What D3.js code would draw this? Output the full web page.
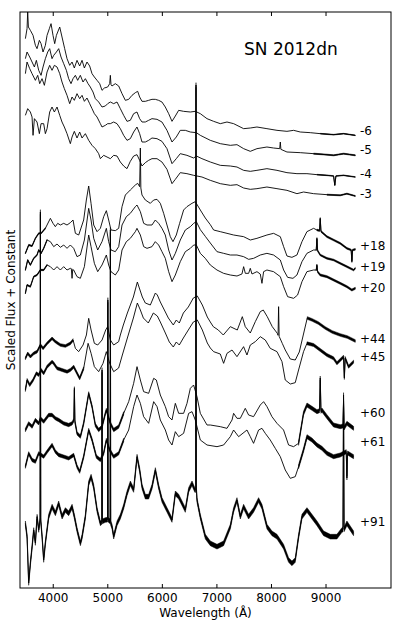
<!DOCTYPE html>
<html><head><meta charset="utf-8">
<script src="https://cdn.jsdelivr.net/npm/d3@7"></script>
<style>body{margin:0;background:#fff}</style>
</head><body><svg id="c" width="399" height="626"></svg>
<script>
// ---- data: [wavelength (Å), scaled flux + constant (arbitrary units)] ----
const epochs = ["-6","-5","-4","-3","+18","+19","+20","+44","+45","+60","+61","+91"];
const spec_m6 = [[3499,1648],[3529,1678],[3541,1728],[3554,1683],[3590,1673],[3639,1658],[3682,1628],[3712,1618],[3755,1643],[3786,1633],[3822,1608],[3865,1628],[3896,1658],[3938,1678],[3969,1693],[4005,1658],[4036,1633],[4067,1658],[4128,1683],[4170,1653],[4219,1618],[4262,1588],[4311,1568],[4354,1578],[4396,1560],[4445,1583],[4494,1566],[4537,1583],[4580,1560],[4628,1578],[4677,1566],[4720,1543],[4763,1533],[4812,1523],[4861,1513],[4903,1493],[4946,1500],[5007,1503],[5044,1513],[5056,1538],[5068,1510],[5086,1506],[5147,1513],[5209,1506],[5270,1483],[5331,1463],[5392,1466],[5453,1478],[5514,1486],[5557,1490],[5593,1473],[5636,1460],[5697,1460],[5758,1463],[5819,1466],[5880,1466],[5941,1463],[6002,1458],[6063,1443],[6125,1423],[6186,1400],[6247,1416],[6308,1433],[6399,1430],[6522,1428],[6613,1430],[6705,1423],[6827,1408],[6949,1400],[7071,1393],[7194,1398],[7316,1393],[7499,1378],[7621,1380],[7743,1383],[7926,1378],[8110,1373],[8293,1370],[8415,1373],[8537,1368],[8720,1366],[8903,1363],[9148,1360],[9331,1363],[9545,1358]];
const spec_m5 = [[3499,1588],[3529,1608],[3578,1593],[3621,1578],[3664,1563],[3700,1583],[3743,1553],[3786,1538],[3822,1563],[3865,1588],[3908,1608],[3944,1618],[3987,1588],[4018,1598],[4067,1608],[4109,1618],[4152,1593],[4201,1573],[4250,1553],[4292,1528],[4335,1513],[4372,1528],[4415,1538],[4457,1523],[4506,1538],[4555,1518],[4598,1528],[4647,1513],[4689,1503],[4738,1488],[4781,1468],[4842,1458],[4903,1443],[4964,1446],[5007,1453],[5056,1458],[5117,1453],[5178,1458],[5239,1438],[5300,1418],[5361,1400],[5422,1403],[5483,1423],[5544,1428],[5593,1408],[5636,1398],[5697,1398],[5758,1403],[5819,1408],[5911,1406],[6002,1398],[6094,1373],[6186,1338],[6265,1353],[6338,1373],[6430,1373],[6522,1368],[6632,1366],[6705,1358],[6888,1343],[7071,1333],[7255,1328],[7377,1330],[7499,1318],[7621,1310],[7743,1318],[7926,1323],[8048,1320],[8160,1318],[8171,1338],[8182,1316],[8293,1308],[8537,1306],[8781,1303],[9026,1300],[9148,1298],[9331,1303],[9545,1298]];
const spec_m4 = [[3499,1543],[3529,1578],[3578,1558],[3621,1543],[3682,1523],[3725,1538],[3761,1513],[3804,1528],[3847,1508],[3896,1548],[3944,1568],[3987,1553],[4030,1568],[4079,1563],[4128,1543],[4170,1518],[4213,1498],[4262,1478],[4311,1453],[4354,1473],[4396,1463],[4445,1483],[4494,1468],[4537,1478],[4580,1460],[4628,1470],[4677,1453],[4720,1438],[4763,1423],[4812,1413],[4873,1393],[4903,1383],[4964,1388],[5007,1393],[5056,1393],[5117,1398],[5178,1393],[5239,1378],[5300,1358],[5361,1343],[5422,1348],[5483,1368],[5544,1383],[5593,1363],[5636,1338],[5697,1338],[5758,1343],[5819,1350],[5911,1348],[6002,1340],[6094,1318],[6186,1273],[6265,1288],[6338,1303],[6460,1298],[6583,1290],[6632,1296],[6735,1288],[6888,1278],[7071,1268],[7255,1266],[7377,1263],[7499,1253],[7621,1250],[7743,1253],[7926,1258],[8110,1253],[8293,1246],[8476,1243],[8659,1243],[8842,1240],[9026,1238],[9148,1236],[9170,1208],[9190,1236],[9331,1238],[9545,1233]];
const spec_m3 = [[3499,1418],[3541,1438],[3590,1428],[3621,1413],[3639,1358],[3664,1408],[3712,1398],[3755,1363],[3786,1393],[3834,1393],[3865,1363],[3896,1378],[3944,1428],[3987,1443],[4030,1428],[4079,1443],[4128,1418],[4170,1398],[4213,1383],[4262,1363],[4323,1333],[4354,1353],[4396,1370],[4445,1350],[4494,1368],[4537,1350],[4598,1363],[4659,1343],[4720,1328],[4781,1318],[4842,1303],[4873,1288],[4934,1298],[4995,1293],[5056,1288],[5117,1298],[5178,1296],[5239,1278],[5300,1266],[5361,1258],[5422,1280],[5483,1296],[5544,1300],[5593,1283],[5636,1266],[5697,1276],[5758,1283],[5819,1288],[5911,1288],[6002,1278],[6094,1256],[6186,1213],[6247,1226],[6338,1246],[6460,1243],[6583,1238],[6735,1233],[6888,1223],[7071,1213],[7255,1208],[7377,1210],[7499,1200],[7621,1196],[7743,1198],[7926,1203],[8110,1198],[8293,1193],[8476,1183],[8598,1188],[8781,1183],[9026,1180],[9270,1178],[9392,1183],[9545,1176]];
const spec_p18 = [[3499,1004],[3560,1029],[3621,1026],[3682,1049],[3743,1064],[3786,1064],[3865,1079],[3957,1109],[4005,1094],[4048,1084],[4091,1094],[4140,1089],[4201,1094],[4262,1089],[4323,1096],[4372,1104],[4415,1064],[4476,1059],[4567,1104],[4616,1164],[4659,1206],[4702,1154],[4751,1089],[4812,1069],[4873,1079],[4934,1114],[4983,1132],[5025,1104],[5068,1074],[5147,1072],[5209,1079],[5270,1144],[5331,1179],[5422,1194],[5514,1209],[5557,1214],[5593,1204],[5606,1320],[5615,1200],[5636,1179],[5697,1164],[5789,1154],[5850,1164],[5911,1166],[5972,1154],[6033,1124],[6094,1089],[6155,1054],[6204,1039],[6265,1059],[6326,1094],[6399,1134],[6460,1144],[6552,1154],[6613,1159],[6705,1134],[6796,1110],[6888,1090],[6949,1074],[7071,1069],[7194,1064],[7316,1059],[7499,1054],[7621,1044],[7743,1049],[7926,1059],[8048,1064],[8171,1054],[8232,1024],[8293,996],[8384,992],[8476,999],[8568,1039],[8659,1069],[8781,1079],[8842,1074],[8890,1072],[8903,1109],[8916,1070],[9026,1054],[9148,1044],[9270,1034],[9392,1019],[9470,1014],[9483,979],[9496,1014],[9545,1016]];
const spec_p19 = [[3499,954],[3541,984],[3590,969],[3651,989],[3712,999],[3743,1014],[3786,1004],[3834,1019],[3896,1044],[3957,1039],[4018,1024],[4079,1032],[4140,1022],[4201,1029],[4262,1019],[4323,1029],[4384,1019],[4445,994],[4506,999],[4580,1044],[4659,1139],[4702,1104],[4751,1049],[4824,1014],[4903,1039],[4983,1079],[5025,1039],[5068,1014],[5147,1009],[5209,1024],[5270,1089],[5349,1114],[5422,1124],[5514,1144],[5544,1149],[5606,1129],[5667,1094],[5728,1089],[5819,1089],[5880,1104],[5941,1094],[6002,1079],[6063,1059],[6125,1014],[6186,984],[6247,1004],[6338,1044],[6430,1074],[6522,1084],[6583,1094],[6632,1099],[6705,1075],[6796,1055],[6888,1035],[7010,1009],[7132,1004],[7255,999],[7377,999],[7499,994],[7591,986],[7682,989],[7804,999],[7926,1004],[8048,999],[8171,984],[8232,954],[8305,932],[8403,929],[8476,939],[8568,979],[8659,1004],[8781,1014],[8830,1014],[8842,1049],[8855,1012],[8903,999],[9026,989],[9148,984],[9270,974],[9392,964],[9514,954],[9545,959]];
const spec_p20 = [[3499,884],[3529,909],[3590,904],[3651,934],[3712,939],[3773,954],[3834,954],[3896,969],[3957,964],[4018,954],[4079,964],[4140,954],[4201,964],[4262,954],[4323,959],[4341,958],[4354,929],[4366,956],[4384,954],[4445,934],[4506,929],[4580,964],[4659,1059],[4702,1024],[4763,974],[4824,949],[4903,969],[4983,999],[5025,969],[5068,949],[5147,939],[5209,954],[5270,1014],[5349,1039],[5422,1049],[5514,1069],[5544,1079],[5606,1059],[5667,1024],[5728,1019],[5819,1024],[5880,1039],[5941,1029],[6002,1009],[6063,989],[6125,949],[6186,919],[6247,939],[6338,979],[6430,1009],[6522,1019],[6583,1029],[6632,1029],[6705,1004],[6796,989],[6888,969],[7010,954],[7132,944],[7255,939],[7377,936],[7468,942],[7499,964],[7530,944],[7591,944],[7621,959],[7652,942],[7743,949],[7804,942],[7835,914],[7865,949],[7926,954],[8048,949],[8171,934],[8232,904],[8305,874],[8415,869],[8488,879],[8568,919],[8659,949],[8781,954],[8830,954],[8842,969],[8855,949],[8903,939],[9026,934],[9148,924],[9270,914],[9392,904],[9483,894],[9545,899]];
const spec_p44 = [[3499,689],[3541,704],[3591,694],[3651,704],[3713,709],[3774,729],[3823,719],[3897,734],[3988,749],[4049,739],[4140,729],[4232,726],[4323,734],[4373,744],[4415,719],[4475,709],[4556,729],[4617,759],[4659,809],[4703,774],[4763,734],[4824,729],[4904,744],[4970,774],[5007,784],[5056,744],[5117,729],[5208,739],[5239,759],[5294,789],[5368,825],[5478,873],[5551,918],[5587,900],[5642,873],[5697,855],[5789,849],[5881,885],[5917,879],[5972,858],[6064,828],[6119,810],[6210,789],[6265,804],[6320,795],[6394,825],[6485,843],[6577,870],[6650,876],[6742,849],[6833,813],[6888,798],[6943,784],[7035,774],[7126,759],[7255,784],[7383,774],[7475,814],[7529,784],[7621,765],[7713,799],[7804,829],[7859,834],[7932,814],[8024,784],[8116,764],[8130,758],[8140,844],[8150,755],[8207,734],[8262,714],[8354,687],[8445,684],[8519,708],[8592,759],[8665,810],[8757,804],[8867,795],[8995,780],[9123,768],[9270,759],[9398,753],[9508,744],[9545,741]];
const spec_p45 = [[3499,594],[3530,624],[3578,609],[3640,624],[3700,644],[3743,639],[3787,654],[3834,644],[3897,664],[3988,679],[4017,674],[4080,659],[4171,654],[4263,649],[4323,654],[4384,664],[4446,644],[4494,629],[4567,659],[4648,734],[4703,704],[4763,664],[4842,649],[4922,674],[4983,709],[5044,674],[5117,649],[5208,660],[5276,699],[5368,750],[5478,810],[5551,855],[5606,834],[5661,810],[5752,795],[5844,825],[5917,816],[5972,798],[6064,765],[6137,738],[6210,723],[6265,738],[6320,729],[6394,750],[6485,774],[6577,798],[6650,804],[6742,774],[6833,735],[6888,720],[6949,709],[7071,702],[7132,674],[7194,704],[7286,714],[7377,694],[7498,724],[7560,699],[7621,729],[7713,739],[7804,754],[7896,744],[7987,719],[8110,709],[8202,679],[8262,624],[8354,612],[8445,616],[8506,654],[8597,709],[8660,734],[8781,729],[8903,714],[9026,699],[9147,689],[9209,674],[9330,694],[9345,630],[9360,690],[9422,664],[9514,679]];
const spec_p60 = [[3499,474],[3559,494],[3622,484],[3682,504],[3743,494],[3774,509],[3834,499],[3926,519],[3988,519],[4049,509],[4109,504],[4201,494],[4292,489],[4355,494],[4387,504],[4397,599],[4406,500],[4446,464],[4507,454],[4567,494],[4659,584],[4721,544],[4781,489],[4842,474],[4904,484],[4965,524],[4983,534],[5056,494],[5117,474],[5208,484],[5300,524],[5392,559],[5483,614],[5545,664],[5606,624],[5666,589],[5758,584],[5850,629],[5899,624],[5972,579],[6064,544],[6124,514],[6186,504],[6247,554],[6308,524],[6399,524],[6461,554],[6522,599],[6582,609],[6644,574],[6705,524],[6828,489],[6888,489],[7071,484],[7194,479],[7286,504],[7315,524],[7377,509],[7438,509],[7529,539],[7590,519],[7681,514],[7804,549],[7865,559],[7927,544],[8018,514],[8110,494],[8231,474],[8323,429],[8414,424],[8506,434],[8597,524],[8660,549],[8751,539],[8843,529],[8890,532],[8903,630],[8916,530],[8934,534],[9026,514],[9147,489],[9270,484],[9320,486],[9330,560],[9340,480],[9392,494],[9514,479]];
const spec_p61 = [[3499,364],[3559,404],[3622,384],[3682,379],[3743,404],[3834,394],[3897,409],[3988,429],[4049,409],[4109,399],[4201,394],[4292,389],[4384,399],[4446,364],[4494,349],[4567,394],[4659,474],[4721,444],[4800,394],[4873,384],[4933,404],[4983,444],[5044,414],[5117,394],[5208,404],[5300,444],[5392,474],[5483,544],[5545,579],[5606,554],[5666,514],[5758,494],[5850,559],[5912,544],[5972,504],[6064,474],[6124,444],[6186,429],[6247,469],[6308,454],[6399,464],[6491,524],[6553,529],[6613,504],[6705,444],[6828,429],[7011,424],[7132,429],[7255,454],[7315,474],[7407,454],[7560,474],[7621,454],[7681,434],[7773,474],[7835,479],[7896,464],[7987,444],[8079,419],[8171,394],[8262,354],[8354,329],[8445,334],[8506,364],[8597,414],[8660,454],[8751,444],[8843,429],[8934,419],[9026,404],[9147,394],[9270,399],[9380,409],[9392,330],[9404,405],[9514,394]];
const spec_p91 = [[3499,194],[3530,154],[3559,15],[3591,75],[3622,124],[3651,174],[3682,135],[3713,214],[3743,174],[3768,204],[3774,1128],[3780,204],[3805,154],[3834,84],[3865,135],[3926,214],[3988,244],[4049,224],[4109,254],[4171,214],[4232,234],[4292,224],[4355,244],[4397,214],[4446,174],[4507,134],[4538,154],[4598,214],[4659,314],[4703,334],[4750,304],[4813,234],[4873,194],[4900,198],[4904,654],[4908,200],[4965,204],[5005,205],[5010,864],[5015,205],[5052,200],[5057,1074],[5062,195],[5087,184],[5117,154],[5179,194],[5239,214],[5300,244],[5362,284],[5423,314],[5483,294],[5545,394],[5593,354],[5637,304],[5697,274],[5758,274],[5820,304],[5881,354],[5941,304],[6003,264],[6095,234],[6186,204],[6247,284],[6308,274],[6370,254],[6430,234],[6491,294],[6553,314],[6604,294],[6620,294],[6626,1509],[6632,300],[6644,264],[6705,214],[6797,154],[6888,134],[7011,124],[7132,134],[7255,184],[7315,234],[7377,264],[7438,214],[7498,244],[7590,214],[7681,234],[7773,264],[7835,244],[7927,184],[8018,164],[8110,154],[8231,124],[8323,84],[8385,74],[8445,84],[8506,154],[8568,214],[8660,234],[8751,214],[8843,194],[8964,164],[9087,154],[9209,154],[9301,174],[9320,176],[9330,579],[9340,176],[9392,194],[9514,164]];
const spectra = [spec_m6,spec_m5,spec_m4,spec_m3,spec_p18,spec_p19,spec_p20,spec_p44,spec_p45,spec_p60,spec_p61,spec_p91];
// flux level at which each epoch label sits
const labelLevel = [1371,1314,1242,1182,1026,963,900,747,693,525,438,198];
// noise level (flux units) over wavelength ranges: [from, to, amplitude]
const noiseLevel = [
  [[8800,9550,2]], [[8700,9550,3]], [[8800,9550,2]], [[8900,9550,3]],
  [[3490,3900,4],[8800,9550,5]], [[3490,3900,4],[8800,9550,5]], [[3490,3900,4],[8800,9550,6]],
  [[3490,4400,8],[8600,9550,8]], [[3490,4600,9],[8600,9550,9]],
  [[3490,5300,10],[8500,9550,12]], [[3490,5300,10],[8500,9550,12]],
  [[3490,9550,14]]
];
const xTicks = [4000,5000,6000,7000,8000,9000];
const title = "SN 2012dn";
const xLabel = "Wavelength (Å)";
const yLabel = "Scaled Flux + Constant";

// ---- drawing ----
const svg = d3.select("#c");
const F = '"DejaVu Sans", sans-serif';
const x = d3.scaleLinear().domain([3400,10200]).range([20,391]);
const y = d3.scaleLinear().domain([0,1728]).range([588,12]);

svg.append("clipPath").attr("id","pc").append("rect")
  .attr("x",20).attr("y",12).attr("width",371).attr("height",576);
const g = svg.append("g").attr("clip-path","url(#pc)");

const line = d3.line().x(d=>x(d[0])).y(d=>y(d[1]));
spectra.forEach((s,i)=>{
  noiseLevel[i].forEach(([a,b,amp])=>{
    const sub = s.filter(d=>d[0]>=a && d[0]<=b);
    g.append("path").datum(sub)
      .attr("d", d3.area().x(d=>x(d[0])).y0(d=>y(d[1]-amp/2)).y1(d=>y(d[1]+amp/2)))
      .attr("fill","#000").attr("stroke","#000").attr("stroke-width",0.5);
  });
  g.append("path").datum(s).attr("d",line)
    .attr("fill","none").attr("stroke","#000").attr("stroke-width",0.9)
    .attr("stroke-linejoin","round");
});

// labels
epochs.forEach((t,i)=>{
  svg.append("text").attr("x",360).attr("y",y(labelLevel[i]))
    .attr("dy","0.36em").attr("font-family",F).attr("font-size",12).text(t);
});

// axes
const ax = svg.append("g").attr("transform","translate(0,588)")
  .call(d3.axisBottom(x).tickValues(xTicks).tickFormat(d3.format("d")).tickSizeInner(-4).tickSizeOuter(0).tickPadding(5));
ax.select(".domain").remove();
ax.selectAll("text").attr("font-family",F).attr("font-size",12).attr("fill","#000");
ax.selectAll("line").attr("stroke","#000");
const axT = svg.append("g").attr("transform","translate(0,12)")
  .call(d3.axisTop(x).tickValues(xTicks).tickFormat("").tickSizeInner(-4).tickSizeOuter(0));
axT.select(".domain").remove();
axT.selectAll("line").attr("stroke","#000");

svg.append("rect").attr("x",20).attr("y",12).attr("width",371).attr("height",576)
  .attr("fill","none").attr("stroke","#000").attr("stroke-width",1);

svg.append("text").attr("x",244).attr("y",54.5).attr("font-family",F).attr("font-size",17).text(title);
svg.append("text").attr("x",205.5).attr("y",617).attr("text-anchor","middle")
  .attr("font-family",F).attr("font-size",12).text(xLabel);
svg.append("text").attr("transform","translate(15,300) rotate(-90)").attr("text-anchor","middle")
  .attr("font-family",F).attr("font-size",12).text(yLabel);
</script></body></html>
